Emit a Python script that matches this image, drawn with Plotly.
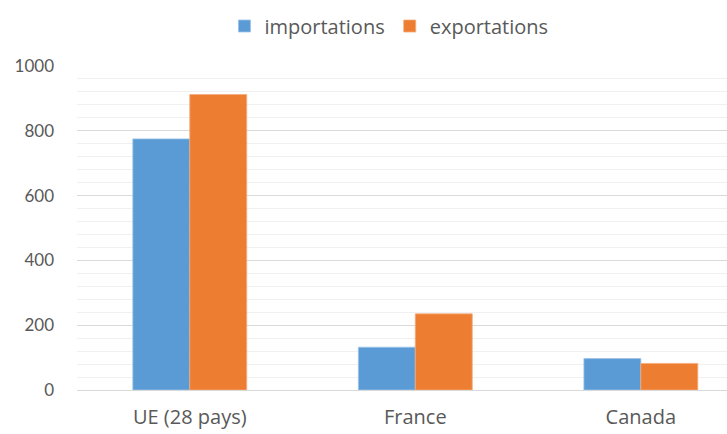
import plotly.graph_objects as go

categories = ["UE (28 pays)", "France", "Canada"]
importations = [775, 132, 97]
exportations = [912, 235, 82]
y_ticks = [0, 200, 400, 600, 800, 1000]

font_fam = "Lato, 'Open Sans', sans-serif"
wide_fam = "'Open Sans', sans-serif"
grey = "#595959"

fig = go.Figure()
fig.add_trace(go.Bar(name="importations", x=categories, y=importations,
                     marker=dict(color="#5B9BD5", line=dict(width=0.8, color="#9cc3e8"))))
fig.add_trace(go.Bar(name="exportations", x=categories, y=exportations,
                     marker=dict(color="#ED7D31", line=dict(width=0.8, color="#f4ab7c"))))

fig.update_layout(
    width=727, height=434,
    margin=dict(l=77, r=0, t=66, b=44, autoexpand=False),
    plot_bgcolor="white", paper_bgcolor="white",
    barmode="group", bargap=0.495, bargroupgap=0,
    font=dict(family=font_fam, color=grey),
    legend=dict(orientation="h", xref="container", x=0.535, xanchor="center",
                yref="container", y=0.985, yanchor="top",
                font=dict(size=20, color=grey, family=wide_fam), itemwidth=30,
                traceorder="normal"),
    showlegend=True,
)
fig.update_xaxes(range=[-0.5, 2.382], showgrid=False, showline=False, automargin=False,
                 ticks="", tickfont=dict(size=20, color=grey, family=wide_fam),
                 ticklabelstandoff=13)
fig.update_yaxes(range=[0, 1000], tickvals=y_ticks, ticktext=[str(v) for v in y_ticks],
                 showgrid=True, gridcolor="#d9d9d9", gridwidth=1, automargin=False,
                 zeroline=True, zerolinecolor="#d9d9d9", zerolinewidth=1,
                 minor=dict(dtick=40, tick0=0, showgrid=True, gridcolor="#f0f0f0", gridwidth=1),
                 tickfont=dict(size=17, color=grey), ticks="", ticklabelstandoff=22,
                 showline=False)

fig.write_html("out.html")
